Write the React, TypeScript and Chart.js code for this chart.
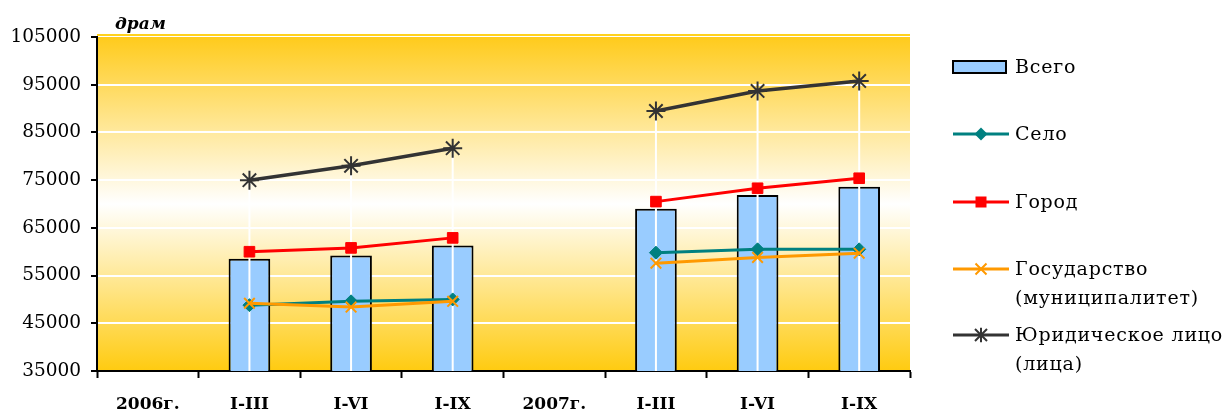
import React, { useEffect, useRef } from "react";
import { Chart, registerables } from "chart.js";

Chart.register(...registerables);

const categories = ["2006г.", "I-III", "I-VI", "I-IX", "2007г.", "I-III", "I-VI", "I-IX"];
const vsego = [null, 58500, 59200, 61300, null, 69000, 71900, 73600];
const selo = [null, 48800, 49600, 50000, null, 59800, 60500, 60500];
const gorod = [null, 60000, 60800, 62900, null, 70500, 73300, 75400];
const gosudarstvo = [null, 49200, 48400, 49600, null, 57600, 58800, 59700];
const yurlico = [null, 75000, 78000, 81700, null, 89500, 93700, 95800];
const yTicks = { min: 35000, max: 105000, step: 10000 };
const unitLabel = "драм";
const legendLabels = [
  ["Всего"],
  ["Село"],
  ["Город"],
  ["Государство", "(муниципалитет)"],
  ["Юридическое лицо", "(лица)"],
];

const FONT = "'DejaVu Serif', serif";
const COLORS = {
  bar: "#99CCFF",
  selo: "#008080",
  gorod: "#FF0000",
  gos: "#FF9900",
  yur: "#333333",
};

const bgPlugin = {
  id: "bgPlugin",
  beforeDraw(chart: any) {
    const { ctx, chartArea } = chart;
    const g = ctx.createLinearGradient(0, chartArea.top, 0, chartArea.bottom);
    g.addColorStop(0, "#FFCB1C");
    g.addColorStop(0.5, "#FFFFFF");
    g.addColorStop(1, "#FFCB10");
    ctx.save();
    ctx.fillStyle = g;
    ctx.fillRect(chartArea.left, chartArea.top, chartArea.right - chartArea.left, chartArea.bottom - chartArea.top);
    ctx.strokeStyle = "#FFD21E";
    ctx.lineWidth = 2;
    ctx.beginPath();
    ctx.moveTo(chartArea.left, chartArea.top - 2);
    ctx.lineTo(chartArea.right, chartArea.top - 2);
    ctx.stroke();
    ctx.restore();
  },
};

const dropLinePlugin = {
  id: "dropLines",
  afterDatasetDraw(chart: any, args: any) {
    if (args.index !== 0) return;
    const { ctx, chartArea } = chart;
    const xs = chart.scales.x;
    const ys = chart.scales.y;
    ctx.save();
    ctx.strokeStyle = "#FFFFFF";
    ctx.lineWidth = 2;
    categories.forEach((_, i) => {
      const vals = [vsego[i], selo[i], gorod[i], gosudarstvo[i], yurlico[i]].filter((v) => v != null) as number[];
      if (!vals.length) return;
      const x = xs.getPixelForValue(i);
      const top = ys.getPixelForValue(Math.max(...vals));
      ctx.beginPath();
      ctx.moveTo(x, top);
      ctx.lineTo(x, chartArea.bottom);
      ctx.stroke();
    });
    ctx.restore();
  },
};

function drawMarker(ctx: CanvasRenderingContext2D, kind: string, x: number, y: number, color: string) {
  ctx.save();
  ctx.fillStyle = color;
  ctx.strokeStyle = color;
  if (kind === "diamond") {
    const r = 6.5;
    ctx.beginPath();
    ctx.moveTo(x, y - r);
    ctx.lineTo(x + r, y);
    ctx.lineTo(x, y + r);
    ctx.lineTo(x - r, y);
    ctx.closePath();
    ctx.fill();
  } else if (kind === "square") {
    ctx.fillRect(x - 5.5, y - 5.5, 11, 11);
  } else if (kind === "cross") {
    ctx.lineWidth = 2;
    const r = 5.5;
    ctx.beginPath();
    ctx.moveTo(x - r, y - r);
    ctx.lineTo(x + r, y + r);
    ctx.moveTo(x + r, y - r);
    ctx.lineTo(x - r, y + r);
    ctx.stroke();
  } else if (kind === "star") {
    ctx.lineWidth = 2;
    const r = 6;
    ctx.beginPath();
    ctx.moveTo(x - r, y - r);
    ctx.lineTo(x + r, y + r);
    ctx.moveTo(x + r, y - r);
    ctx.lineTo(x - r, y + r);
    ctx.moveTo(x, y - r * 1.2);
    ctx.lineTo(x, y + r * 1.2);
    ctx.stroke();
  }
  ctx.restore();
}

const legendPlugin = {
  id: "customLegend",
  afterDraw(chart: any) {
    const { ctx } = chart;
    ctx.save();
    ctx.font = `italic bold 17px ${FONT}`;
    ctx.fillStyle = "#000";
    ctx.textBaseline = "middle";
    ctx.textAlign = "left";
    ctx.fillText(unitLabel, 115, 25);

    const x0 = 953;
    const x1 = 1009;
    const tx = 1015;
    const rows = [67, 134, 202, 269, 335];
    const kinds = ["box", "diamond", "square", "cross", "star"];
    const cols = [COLORS.bar, COLORS.selo, COLORS.gorod, COLORS.gos, COLORS.yur];
    ctx.font = `19px ${FONT}`;
    (ctx as any).letterSpacing = "0.8px";
    rows.forEach((y, i) => {
      if (kinds[i] === "box") {
        ctx.fillStyle = COLORS.bar;
        ctx.fillRect(x0, y - 6, 53, 12);
        ctx.strokeStyle = "#000";
        ctx.lineWidth = 2;
        ctx.strokeRect(x0, y - 6, 53, 12);
      } else {
        ctx.strokeStyle = cols[i];
        ctx.lineWidth = 3;
        ctx.beginPath();
        ctx.moveTo(x0, y);
        ctx.lineTo(x1, y);
        ctx.stroke();
        drawMarker(ctx, kinds[i], (x0 + x1) / 2, y, cols[i]);
      }
      ctx.fillStyle = "#000";
      legendLabels[i].forEach((t, j) => {
        ctx.fillText(t, tx, y + 1 + j * 29);
      });
    });
    ctx.restore();
  },
};

export default function App() {
  const ref = useRef<HTMLCanvasElement | null>(null);
  useEffect(() => {
    if (!ref.current) return;
    const chart = new Chart(ref.current, {
      type: "bar",
      data: {
        labels: categories,
        datasets: [
          {
            type: "bar",
            label: legendLabels[0].join(" "),
            data: vsego,
            backgroundColor: COLORS.bar,
            borderColor: "#000",
            borderWidth: 2,
            borderSkipped: false,
            categoryPercentage: 1,
            barPercentage: 0.41,
            order: 10,
          },
          {
            type: "line",
            label: legendLabels[1].join(" "),
            data: selo,
            borderColor: COLORS.selo,
            backgroundColor: COLORS.selo,
            borderWidth: 3,
            pointStyle: "rectRot",
            pointRadius: 6.5,
            pointBorderWidth: 1,
            spanGaps: false,
            order: 4,
          },
          {
            type: "line",
            label: legendLabels[2].join(" "),
            data: gorod,
            borderColor: COLORS.gorod,
            backgroundColor: COLORS.gorod,
            borderWidth: 3,
            pointStyle: "rect",
            pointRadius: 7.5,
            pointBorderWidth: 1,
            spanGaps: false,
            order: 3,
          },
          {
            type: "line",
            label: legendLabels[3].join(" "),
            data: gosudarstvo,
            borderColor: COLORS.gos,
            backgroundColor: COLORS.gos,
            borderWidth: 3,
            pointStyle: "crossRot",
            pointRadius: 7.5,
            pointBorderWidth: 2,
            spanGaps: false,
            order: 2,
          },
          {
            type: "line",
            label: legendLabels[4].join(" "),
            data: yurlico,
            borderColor: COLORS.yur,
            backgroundColor: COLORS.yur,
            borderWidth: 3.5,
            pointStyle: "star",
            pointRadius: 9.5,
            pointBorderWidth: 2,
            spanGaps: false,
            order: 1,
          },
        ] as any,
      },
      options: {
        animation: false,
        responsive: false,
        devicePixelRatio: 1,
        layout: { padding: { left: 0, top: 37, right: 319, bottom: 0 } },
        plugins: {
          legend: { display: false },
          tooltip: { enabled: false },
          title: { display: false },
        },
        scales: {
          x: {
            type: "category",
            offset: true,
            grid: {
              offset: true,
              drawOnChartArea: false,
              drawTicks: true,
              tickLength: 7,
              tickColor: "#000",
              tickWidth: 2,
            },
            border: { color: "#000", width: 2 },
            ticks: {
              color: "#000",
              font: { family: FONT, size: 17, weight: "bold" },
              padding: 16,
              maxRotation: 0,
              autoSkip: false,
            },
            afterFit(scale: any) {
              scale.height = 43;
            },
          },
          y: {
            min: yTicks.min,
            max: yTicks.max,
            grid: {
              color: (c: any) => (c.tick && c.tick.value === yTicks.max ? "rgba(0,0,0,0)" : "#FFFFFF"),
              lineWidth: 2,
              tickColor: "#000",
              tickLength: 6,
              tickWidth: 2,
            },
            border: { color: "#000", width: 2 },
            ticks: {
              stepSize: yTicks.step,
              color: "#000",
              font: { family: FONT, size: 18.5 },
              padding: 10,
              callback: (v: any) => String(v),
            },
            afterFit(scale: any) {
              scale.width = 97;
            },
          },
        },
      } as any,
      plugins: [bgPlugin, dropLinePlugin, legendPlugin],
    });
    return () => chart.destroy();
  }, []);
  return (
    <div style={{ position: "fixed", left: 0, top: 0, width: 1229, height: 414, background: "#fff" }}>
      <canvas ref={ref} width={1229} height={414} style={{ width: 1229, height: 414, display: "block" }} />
    </div>
  );
}
